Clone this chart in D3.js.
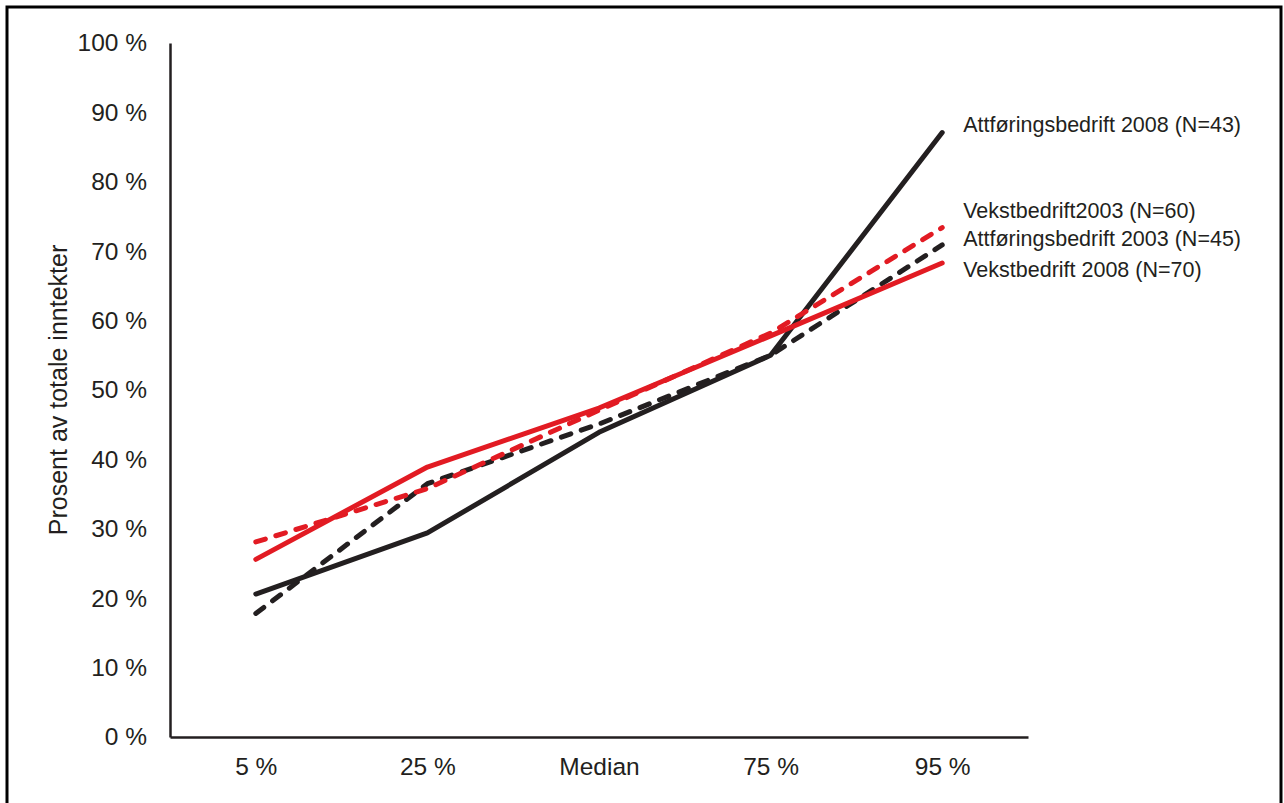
<!DOCTYPE html>
<html>
<head>
    <title>Prosent av totale inntekter</title>
    <script src="https://d3js.org/d3.v7.min.js"></script>
    <style>
        body { margin: 0; background: #fff; }
        text { font-family: "Liberation Sans", Arial, sans-serif; fill: #231f20; }
    </style>
</head>
<body>
<svg width="1284" height="803"></svg>
<script>
    const categories = ["5 %", "25 %", "Median", "75 %", "95 %"];
    const yTicks = [0, 10, 20, 30, 40, 50, 60, 70, 80, 90, 100];

    const attforing2008 = [20.6, 29.4, 43.9, 55.0, 87.1];
    const vekst2003 = [28.1, 35.8, 47.1, 58.2, 73.4];
    const attforing2003 = [17.8, 36.5, 45.1, 55.0, 70.9];
    const vekst2008 = [25.6, 38.9, 47.4, 57.8, 68.3];

    const seriesNames = [
        "Attføringsbedrift 2003 (N=45)",
        "Attføringsbedrift 2008 (N=43)",
        "Vekstbedrift2003 (N=60)",
        "Vekstbedrift 2008 (N=70)"
    ];
    const seriesValues = [attforing2003, attforing2008, vekst2003, vekst2008];

    const black = "#231f20";
    const red = "#e21b23";
    const styles = [
        {color: black, dash: "10,11"},
        {color: black, dash: null},
        {color: red, dash: "10,11"},
        {color: red, dash: null}
    ];
    // where the end labels sit, in y-axis units
    const labelAt = [71.8, 88.3, 75.9, 67.4];

    const width = 1284;
    const height = 803;
    const plotLeft = 170, plotRight = 1028, plotTop = 43, plotBottom = 737;

    const svg = d3.select("svg")
        .attr("width", width)
        .attr("height", height);

    // outer frame
    svg.append("rect")
        .attr("x", 7).attr("y", 7)
        .attr("width", 1274).attr("height", 806)
        .attr("fill", "none")
        .attr("stroke", "#000")
        .attr("stroke-width", 3);

    const x = d3.scalePoint()
        .domain(categories)
        .range([plotLeft, plotRight])
        .padding(0.5);

    const y = d3.scaleLinear()
        .domain([0, 100])
        .range([plotBottom, plotTop]);

    const yAxis = svg.append("g")
        .attr("transform", "translate(" + plotLeft + ",0)")
        .call(d3.axisLeft(y).tickValues(yTicks).tickSize(0).tickPadding(23)
            .tickFormat(d => d + " %"));
    yAxis.select(".domain").attr("stroke", black).attr("stroke-width", 2.5);
    yAxis.selectAll("text")
        .style("font-size", "24.5px")
        .attr("fill", black);

    const xAxis = svg.append("g")
        .attr("transform", "translate(0," + plotBottom + ")")
        .call(d3.axisBottom(x).tickSize(0).tickPadding(21));
    xAxis.select(".domain").attr("stroke", black).attr("stroke-width", 2.5);
    xAxis.selectAll("text")
        .style("font-size", "24.5px")
        .attr("fill", black);

    svg.append("text")
        .attr("transform", "translate(67," + ((plotTop + plotBottom) / 2) + ") rotate(-90)")
        .attr("text-anchor", "middle")
        .style("font-size", "25px")
        .text("Prosent av totale inntekter");

    const line = d3.line()
        .x((d, i) => x(categories[i]))
        .y(d => y(d));

    seriesValues.forEach((vals, i) => {
        svg.append("path")
            .datum(vals)
            .attr("d", line)
            .attr("fill", "none")
            .attr("stroke", styles[i].color)
            .attr("stroke-width", 5)
            .attr("stroke-linecap", "round")
            .attr("stroke-linejoin", "round")
            .attr("stroke-dasharray", styles[i].dash);

        svg.append("text")
            .attr("x", x(categories[categories.length - 1]) + 21)
            .attr("y", y(labelAt[i]))
            .attr("dy", "0.35em")
            .style("font-size", "21.5px")
            .text(seriesNames[i]);
    });
</script>
</body>
</html>
